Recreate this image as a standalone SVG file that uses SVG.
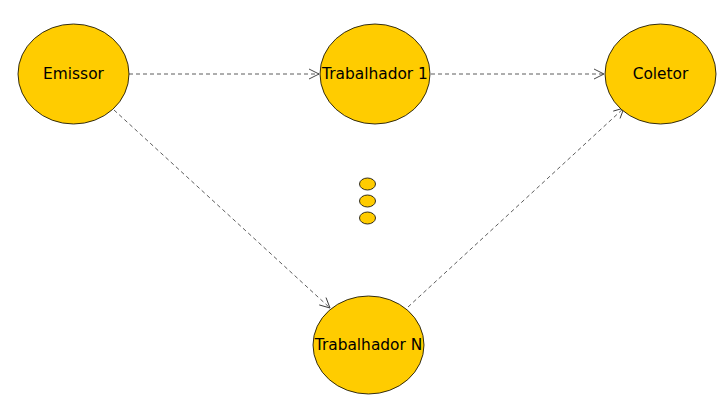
<svg xmlns="http://www.w3.org/2000/svg" width="727" height="400" viewBox="0 0 727 400">
<style>
.n{fill:#ffcc00;stroke:#000;stroke-width:0.8}
.t{font-family:"DejaVu Sans",sans-serif;font-size:15.4px;fill:#000;text-anchor:middle;dominant-baseline:central}
.e{fill:none;stroke:#333;stroke-width:0.8;stroke-dasharray:4,3;marker-end:url(#a)}
</style>
<defs>
<marker id="a" viewBox="0 0 12 12" refX="11" refY="6" markerWidth="12" markerHeight="12" markerUnits="userSpaceOnUse" orient="auto">
<path d="M1,1 L11,6 L1,11" fill="none" stroke="#333" stroke-width="0.9"/>
</marker>
</defs>
<rect width="727" height="400" fill="#fff"/>
<g id="edges">
<path class="e" d="M129,74 L319,74"/>
<path class="e" d="M431,74 L604,74"/>
<path class="e" d="M114,110 L330,308"/>
<path class="e" d="M408,307 L624,108"/>
</g>
<g id="emissor"><ellipse class="n" cx="73.5" cy="74" rx="55.5" ry="50"/><text class="t" x="73.5" y="74">Emissor</text></g>
<g id="trabalhador1"><ellipse class="n" cx="375" cy="74" rx="55" ry="50"/><text class="t" x="375" y="74">Trabalhador 1</text></g>
<g id="coletor"><ellipse class="n" cx="660.5" cy="74" rx="55.5" ry="50"/><text class="t" x="660.5" y="74">Coletor</text></g>
<g id="trabalhadorN"><ellipse class="n" cx="368.5" cy="345" rx="55.5" ry="49"/><text class="t" x="368.5" y="345">Trabalhador N</text></g>
<g id="dots">
<ellipse class="n" cx="367.5" cy="184" rx="8" ry="6"/>
<ellipse class="n" cx="367.5" cy="201" rx="8" ry="6"/>
<ellipse class="n" cx="367.5" cy="218" rx="8" ry="6"/>
</g>
</svg>
